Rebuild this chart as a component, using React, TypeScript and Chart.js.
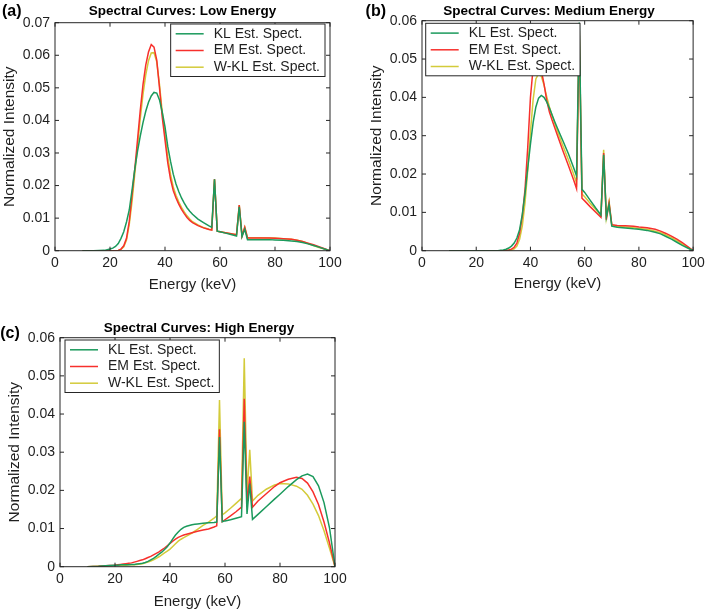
import React, { useEffect, useRef } from 'react';
import { Chart, registerables } from 'chart.js';

Chart.register(...registerables);

// ---------------- data ----------------
const ENERGY = [10, 14, 18, 20, 21, 22, 23, 24, 25, 26, 27, 28, 29, 30, 31, 32, 33, 34, 35, 36, 37, 38, 39, 40, 41, 42, 43, 44, 45, 46, 47, 48, 49, 50, 52, 54, 56, 57, 58, 59, 60, 62, 64, 66, 67, 68, 69, 70, 72, 75, 78, 80, 83, 86, 88, 90, 92, 94, 96, 98, 100];

const LOW_KL = [0, 0, 0.0001, 0.0005, 0.0008, 0.0013, 0.0022, 0.0038, 0.0058, 0.0088, 0.0125, 0.0185, 0.025, 0.0305, 0.0352, 0.0393, 0.0428, 0.0456, 0.0475, 0.0486, 0.0484, 0.0463, 0.0425, 0.038, 0.032, 0.0275, 0.0235, 0.0205, 0.0182, 0.0162, 0.0146, 0.0132, 0.0121, 0.0112, 0.0097, 0.0086, 0.0076, 0.0072, 0.0219, 0.006, 0.0058, 0.0054, 0.005, 0.0045, 0.0135, 0.0043, 0.0066, 0.0034, 0.0034, 0.0034, 0.0034, 0.0033, 0.0032, 0.003, 0.0028, 0.0025, 0.0021, 0.0016, 0.0011, 0.0005, 0];
const LOW_EM = [0, 0, 0, 0, 0, 0, 0.0001, 0.0005, 0.0015, 0.0038, 0.009, 0.017, 0.025, 0.034, 0.043, 0.051, 0.057, 0.061, 0.0633, 0.0625, 0.0585, 0.05, 0.041, 0.034, 0.027, 0.022, 0.0185, 0.0162, 0.0143, 0.0127, 0.0114, 0.0102, 0.0093, 0.0086, 0.0077, 0.007, 0.0065, 0.0063, 0.0219, 0.006, 0.0058, 0.0055, 0.0052, 0.0049, 0.014, 0.0045, 0.0072, 0.0039, 0.0039, 0.0039, 0.0039, 0.0038, 0.0037, 0.0035, 0.0032, 0.0028, 0.0023, 0.0018, 0.0012, 0.0006, 0];
const LOW_WKL = [0, 0, 0, 0, 0, 0, 0.0001, 0.0004, 0.0012, 0.0033, 0.008, 0.015, 0.0235, 0.032, 0.0405, 0.048, 0.054, 0.0583, 0.0607, 0.0608, 0.058, 0.051, 0.0425, 0.0355, 0.0288, 0.0235, 0.0196, 0.017, 0.015, 0.0133, 0.0119, 0.0107, 0.0097, 0.0089, 0.0079, 0.0071, 0.0066, 0.0064, 0.0219, 0.006, 0.0058, 0.0055, 0.0052, 0.0049, 0.014, 0.0045, 0.0072, 0.004, 0.004, 0.004, 0.0039, 0.0039, 0.0037, 0.0035, 0.0032, 0.0028, 0.0022, 0.0016, 0.001, 0.0005, 0];

const MED_KL = [0, 0, 0, 0, 0, 0, 0, 0, 0, 0, 0, 0, 0.0001, 0.0002, 0.0004, 0.0007, 0.0012, 0.002, 0.0033, 0.0055, 0.0095, 0.015, 0.0215, 0.0278, 0.0335, 0.0375, 0.0398, 0.0405, 0.04, 0.0388, 0.0372, 0.0354, 0.0336, 0.0319, 0.0286, 0.0253, 0.0215, 0.0195, 0.0595, 0.016, 0.0152, 0.0132, 0.0112, 0.0093, 0.025, 0.0088, 0.012, 0.0064, 0.0061, 0.0059, 0.0057, 0.0056, 0.0053, 0.0048, 0.0044, 0.0037, 0.003, 0.0022, 0.0014, 0.0007, 0];
const MED_EM = [0, 0, 0, 0, 0, 0, 0, 0, 0, 0, 0, 0, 0, 0, 0.0001, 0.0002, 0.0004, 0.0009, 0.002, 0.0045, 0.009, 0.016, 0.027, 0.04, 0.0478, 0.0505, 0.0495, 0.047, 0.0435, 0.0392, 0.0362, 0.034, 0.032, 0.03, 0.026, 0.0222, 0.0183, 0.0162, 0.058, 0.0137, 0.013, 0.0115, 0.0101, 0.0087, 0.0255, 0.0081, 0.0125, 0.0068, 0.0066, 0.0065, 0.0064, 0.0062, 0.006, 0.0056, 0.0051, 0.0045, 0.0038, 0.003, 0.0021, 0.0011, 0];
const MED_WKL = [0, 0, 0, 0, 0, 0, 0, 0, 0, 0, 0, 0, 0, 0, 0, 0.0001, 0.0002, 0.0005, 0.0012, 0.003, 0.0065, 0.0125, 0.021, 0.031, 0.0395, 0.0448, 0.0462, 0.0455, 0.0432, 0.0402, 0.0375, 0.0352, 0.0331, 0.0311, 0.0273, 0.0237, 0.0198, 0.0177, 0.057, 0.0148, 0.0141, 0.0124, 0.0108, 0.0092, 0.0263, 0.0086, 0.0128, 0.0067, 0.0064, 0.0062, 0.006, 0.0058, 0.0056, 0.0051, 0.0047, 0.0041, 0.0034, 0.0026, 0.0017, 0.0009, 0];

const HIGH_KL = [0, 0.0001, 0.0003, 0.0004, 0.0004, 0.0005, 0.0005, 0.0005, 0.0005, 0.0006, 0.0006, 0.0007, 0.0008, 0.0009, 0.0011, 0.0014, 0.0018, 0.0022, 0.0027, 0.0033, 0.0038, 0.0045, 0.0052, 0.0062, 0.0073, 0.0083, 0.0091, 0.0098, 0.0103, 0.0106, 0.0108, 0.011, 0.0111, 0.0112, 0.0114, 0.0115, 0.0116, 0.0117, 0.034, 0.0118, 0.012, 0.0123, 0.0127, 0.0131, 0.038, 0.0138, 0.0218, 0.0124, 0.0137, 0.0157, 0.0177, 0.019, 0.021, 0.0228, 0.0238, 0.0243, 0.0236, 0.0212, 0.0168, 0.0102, 0];
const HIGH_EM = [0, 0.0001, 0.0003, 0.0004, 0.0005, 0.0006, 0.0007, 0.0008, 0.0009, 0.001, 0.0012, 0.0014, 0.0016, 0.0018, 0.0021, 0.0024, 0.0027, 0.0031, 0.0035, 0.0039, 0.0044, 0.0049, 0.0055, 0.0061, 0.0067, 0.0072, 0.0077, 0.008, 0.0083, 0.0085, 0.0087, 0.0089, 0.0091, 0.0093, 0.0096, 0.0099, 0.0104, 0.0107, 0.036, 0.0118, 0.0123, 0.0133, 0.0144, 0.0156, 0.044, 0.0166, 0.0236, 0.0156, 0.0172, 0.0191, 0.021, 0.022, 0.0229, 0.0234, 0.0231, 0.0219, 0.0196, 0.0163, 0.0117, 0.0062, 0];
const HIGH_WKL = [0, 0.0001, 0.0002, 0.0003, 0.0003, 0.0004, 0.0004, 0.0004, 0.0005, 0.0005, 0.0005, 0.0006, 0.0007, 0.0008, 0.001, 0.0012, 0.0015, 0.0018, 0.0022, 0.0026, 0.0031, 0.0036, 0.0041, 0.0046, 0.0053, 0.006, 0.0067, 0.0072, 0.0076, 0.008, 0.0084, 0.0088, 0.0093, 0.0098, 0.0108, 0.0117, 0.0127, 0.0133, 0.0437, 0.0136, 0.0141, 0.0153, 0.0166, 0.0179, 0.0546, 0.0192, 0.0306, 0.0172, 0.0187, 0.0203, 0.0214, 0.0218, 0.0217, 0.0211, 0.0203, 0.0187, 0.0164, 0.0134, 0.0094, 0.0048, 0];

const SERIES_LABELS = ['KL Est. Spect.', 'EM Est. Spect.', 'W-KL Est. Spect.'];
const X_TICKS = [0, 20, 40, 60, 80, 100];
const LOW_Y_TICKS = [0, 0.01, 0.02, 0.03, 0.04, 0.05, 0.06, 0.07];
const MED_Y_TICKS = [0, 0.01, 0.02, 0.03, 0.04, 0.05, 0.06];
const HIGH_Y_TICKS = [0, 0.01, 0.02, 0.03, 0.04, 0.05, 0.06];
const X_TITLE = 'Energy (keV)';
const Y_TITLE = 'Normalized Intensity';

// ---------------- styles ----------------
const FONT = "'Liberation Sans', Arial, Helvetica, sans-serif";
const TEXT = '#1f1f1f';
const AXIS = '#262626';
const SERIES_COLORS = ['#1b9a5c', '#f7302c', '#d3cb3a'];
const TICK_FONT = 14;
const X_TITLE_FONT = 15;
const Y_TITLE_FONT = 15.5;
const TICK_LEN = 4;

type Area = { left: number; top: number; right: number; bottom: number };
type PanelDef = {
  key: string;
  left: number; top: number; width: number; height: number;
  label: string; title: string;
  series: number[][];
  yMax: number; yTicks: number[];
  area: Area;
  yTitleX: number; xTitleY: number;
  titleX: number; titleY: number;
  labelX: number; labelY: number;
  legend: { side: 'left' | 'right'; dx: number; dy: number };
};

const PANELS: PanelDef[] = [
  {
    key: 'a', left: 0, top: 0, width: 355, height: 300,
    label: '(a)', title: 'Spectral Curves: Low Energy',
    series: [LOW_KL, LOW_EM, LOW_WKL], yMax: 0.07, yTicks: LOW_Y_TICKS,
    area: { left: 55, top: 22.7, right: 330, bottom: 250.7 },
    yTitleX: 9.3, xTitleY: 284.5, titleX: 182.5, titleY: 11.7, labelX: 11.7, labelY: 11.7,
    legend: { side: 'right', dx: 5, dy: 1.3 },
  },
  {
    key: 'b', left: 355, top: 0, width: 354, height: 300,
    label: '(b)', title: 'Spectral Curves: Medium Energy',
    series: [MED_KL, MED_EM, MED_WKL], yMax: 0.06, yTicks: MED_Y_TICKS,
    area: { left: 67, top: 20.7, right: 340.7, bottom: 250.7 },
    yTitleX: 22, xTitleY: 283.5, titleX: 194, titleY: 11.7, labelX: 20.8, labelY: 11.7,
    legend: { side: 'left', dx: 3.7, dy: 2.6 },
  },
  {
    key: 'c', left: 0, top: 300, width: 355, height: 312,
    label: '(c)', title: 'Spectral Curves: High Energy',
    series: [HIGH_KL, HIGH_EM, HIGH_WKL], yMax: 0.06, yTicks: HIGH_Y_TICKS,
    area: { left: 60, top: 37.7, right: 335, bottom: 266.7 },
    yTitleX: 15, xTitleY: 301.7, titleX: 199, titleY: 28.3, labelX: 10, labelY: 33.3,
    legend: { side: 'left', dx: 5, dy: 2.3 },
  },
];

function makeDecor(p: PanelDef) {
  return {
    id: 'decor_' + p.key,
    afterDatasetsDraw(chart: any) {
      const { ctx, chartArea: a, scales } = chart;
      ctx.save();
      ctx.strokeStyle = AXIS;
      ctx.lineWidth = 1;
      ctx.strokeRect(a.left, a.top, a.right - a.left, a.bottom - a.top);
      ctx.beginPath();
      for (const t of scales.x.ticks) {
        const px = scales.x.getPixelForValue(t.value);
        ctx.moveTo(px, a.bottom); ctx.lineTo(px, a.bottom - TICK_LEN);
        ctx.moveTo(px, a.top); ctx.lineTo(px, a.top + TICK_LEN);
      }
      for (const t of scales.y.ticks) {
        const py = scales.y.getPixelForValue(t.value);
        ctx.moveTo(a.left, py); ctx.lineTo(a.left + TICK_LEN, py);
        ctx.moveTo(a.right, py); ctx.lineTo(a.right - TICK_LEN, py);
      }
      ctx.stroke();
      ctx.restore();
    },
    afterDraw(chart: any) {
      const { ctx, chartArea: a } = chart;
      ctx.save();
      // legend
      ctx.font = `${TICK_FONT}px ${FONT}`;
      const dsets = chart.data.datasets;
      const textW = Math.max(...dsets.map((d: any) => ctx.measureText(d.label).width));
      const padL = 5, lineLen = 28, gap = 10, padR = 5, rowH = 16.7;
      const w = padL + lineLen + gap + textW + padR;
      const h = 52.5;
      const x0 = p.legend.side === 'right' ? a.right - p.legend.dx - w : a.left + p.legend.dx;
      const y0 = a.top + p.legend.dy;
      ctx.fillStyle = '#ffffff';
      ctx.fillRect(x0, y0, w, h);
      ctx.strokeStyle = AXIS;
      ctx.lineWidth = 1;
      ctx.strokeRect(x0, y0, w, h);
      dsets.forEach((d: any, i: number) => {
        const cy = y0 + 9.8 + i * rowH;
        ctx.strokeStyle = d.borderColor;
        ctx.lineWidth = 1.5;
        ctx.beginPath();
        ctx.moveTo(x0 + padL, cy);
        ctx.lineTo(x0 + padL + lineLen, cy);
        ctx.stroke();
        ctx.fillStyle = TEXT;
        ctx.textAlign = 'left';
        ctx.textBaseline = 'middle';
        ctx.fillText(d.label, x0 + padL + lineLen + gap, cy);
      });
      // title and panel label
      ctx.fillStyle = '#000';
      ctx.textAlign = 'center';
      ctx.textBaseline = 'middle';
      ctx.font = `bold 13.5px ${FONT}`;
      ctx.fillText(p.title, p.titleX, p.titleY);
      ctx.font = `bold 16px ${FONT}`;
      ctx.fillText(p.label, p.labelX, p.labelY);
      ctx.restore();
    },
  };
}

function buildConfig(p: PanelDef): any {
  const xAxisH = p.xTitleY + (X_TITLE_FONT * 1.2) / 2 - p.area.bottom;
  const yTitlePad = p.yTitleX - (Y_TITLE_FONT * 1.2) / 2;
  return {
    type: 'line',
    data: {
      datasets: p.series.map((vals, i) => ({
        label: SERIES_LABELS[i],
        data: ENERGY.map((e, j) => ({ x: e, y: vals[j] })),
        borderColor: SERIES_COLORS[i],
        backgroundColor: SERIES_COLORS[i],
        borderWidth: 1.5,
        pointRadius: 0,
        tension: 0,
        fill: false,
      })),
    },
    options: {
      responsive: false,
      animation: false,
      events: [],
      layout: {
        padding: {
          left: 0,
          top: p.area.top,
          right: p.width - p.area.right,
          bottom: Math.max(0, p.height - p.area.bottom - xAxisH),
        },
      },
      plugins: {
        legend: { display: false },
        tooltip: { enabled: false },
        title: { display: false },
      },
      scales: {
        x: {
          type: 'linear',
          min: 0,
          max: 100,
          afterBuildTicks: (s: any) => { s.ticks = X_TICKS.map((v) => ({ value: v })); },
          ticks: {
            padding: 4.2,
            autoSkip: false,
            maxRotation: 0,
            color: TEXT,
            font: { family: FONT, size: TICK_FONT },
            callback: (v: any) => String(v),
          },
          grid: { display: false, drawTicks: false },
          border: { display: false },
          title: {
            display: true,
            text: X_TITLE,
            color: TEXT,
            font: { family: FONT, size: X_TITLE_FONT },
            padding: { top: 0, bottom: 0 },
          },
          afterFit: (s: any) => { s.height = xAxisH; },
        },
        y: {
          type: 'linear',
          min: 0,
          max: p.yMax,
          afterBuildTicks: (s: any) => { s.ticks = p.yTicks.map((v) => ({ value: v })); },
          ticks: {
            padding: 5,
            autoSkip: false,
            color: TEXT,
            font: { family: FONT, size: TICK_FONT },
            callback: (v: any) => (Number(v) === 0 ? '0' : Number(v).toFixed(2)),
          },
          grid: { display: false, drawTicks: false },
          border: { display: false },
          title: {
            display: true,
            text: Y_TITLE,
            color: TEXT,
            font: { family: FONT, size: Y_TITLE_FONT },
            padding: { top: yTitlePad, bottom: 0 },
          },
          afterFit: (s: any) => { s.width = p.area.left; },
        },
      },
    },
    plugins: [makeDecor(p)],
  };
}

function Panel({ p }: { p: PanelDef }) {
  const ref = useRef<HTMLCanvasElement | null>(null);
  useEffect(() => {
    if (!ref.current) return;
    const chart = new Chart(ref.current, buildConfig(p));
    return () => chart.destroy();
  }, [p]);
  return (
    <canvas
      ref={ref}
      width={p.width}
      height={p.height}
      style={{ position: 'absolute', left: p.left, top: p.top, width: p.width, height: p.height }}
    />
  );
}

export default function App() {
  return (
    <div
      style={{
        position: 'fixed',
        left: 0,
        top: 0,
        width: 709,
        height: 610,
        background: '#ffffff',
        overflow: 'hidden',
      }}
    >
      {PANELS.map((p) => (
        <Panel key={p.key} p={p} />
      ))}
    </div>
  );
}
